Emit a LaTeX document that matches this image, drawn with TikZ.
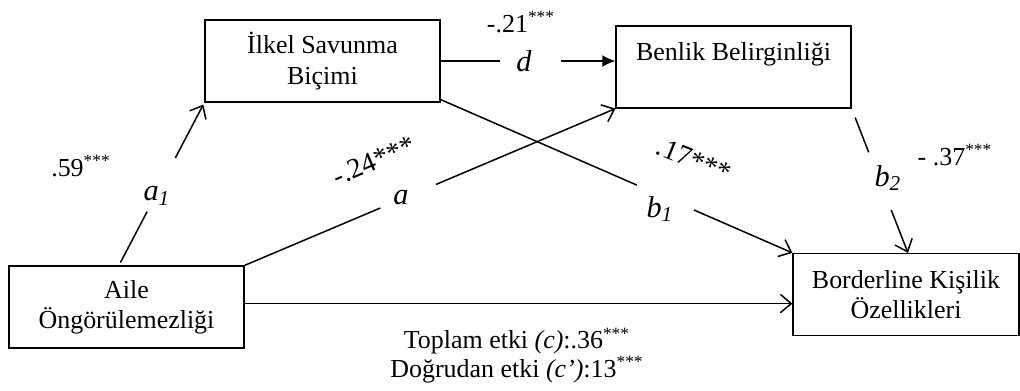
\documentclass[tikz,border=0pt]{standalone}
\usepackage{fontspec}
\setmainfont{Liberation Serif}
\usetikzlibrary{arrows.meta,calc}

\begin{document}
\begin{tikzpicture}[x=0.4625pt,y=-0.4625pt,line width=0.7pt,
    >={Straight Barb[length=5pt,width=8.5pt]},
    box/.style={draw,line width=0.6pt,minimum width=108.7pt,minimum height=37.9pt,
      align=center,font=\fontsize{12pt}{14pt}\selectfont},
    coef/.style={inner sep=0.5pt,font=\fontsize{12pt}{14pt}\selectfont},
    plabel/.style={inner sep=1pt,font=\fontsize{14pt}{16pt}\selectfont\itshape}]

    \useasboundingbox (0,0) rectangle (1020,390);

    \node[box] (ilkel) at (322.5,61) {İlkel Savunma\\Biçimi};
    \node[box] (benlik) at (733.5,67) {Benlik Belirginliği\\~};
    \node[box] (aile) at (126.5,307) {Aile\\Öngörülemezliği};
    \node[box,minimum width=104.5pt] (border) at (906,294.5) {Borderline Kişilik\\Özellikleri};

    % a1
    \path ([xshift=-3.5pt]aile.north) -- coordinate[pos=.33] (a1p) coordinate[pos=.66] (a1q) (ilkel.south west);
    \draw[shorten <=1.5pt] ([xshift=-3.5pt]aile.north) -- (a1p);
    \draw[->,shorten >=1pt] (a1q) -- (ilkel.south west);
    % a
    \path (aile.north east) -- coordinate[pos=.366] (ap) coordinate[pos=.516] (aq) (benlik.south west);
    \draw (aile.north east) -- (ap);
    \draw[->] (aq) -- (benlik.south west);
    % d
    \path (ilkel.east) -- coordinate[pos=.34] (dp) coordinate[pos=.69] (dq) (ilkel.east -| benlik.west);
    \draw (ilkel.east) -- (dp);
    \draw[-{Latex[length=6pt,width=5.5pt]}] (dq) -- (ilkel.east -| benlik.west);
    % b1
    \path ([yshift=1.4pt]ilkel.south east) -- coordinate[pos=.558] (b1p) coordinate[pos=.72] (b1q) (border.north west);
    \draw ([yshift=1.4pt]ilkel.south east) -- (b1p);
    \draw[->] (b1q) -- (border.north west);
    % b2
    \path (benlik.south east) -- coordinate[pos=.062] (b2o) coordinate[pos=.303] (b2p)
      coordinate[pos=.703] (b2q) ([xshift=0.9pt]border.north);
    \draw (b2o) -- (b2p);
    \draw[->] (b2q) -- ([xshift=0.9pt]border.north);
    % c
    \coordinate (cstart) at ([yshift=1.6pt]aile.east);
    \draw[->] (cstart) -- (cstart -| border.west);

    \node[coef] (c59) at (81,166) {.59\textsuperscript{***}};
    \node[plabel] (la1) at (157,196) {a\textsubscript{1}};
    \node[coef,font=\fontsize{13pt}{15pt}\selectfont,rotate=23] (c24) at (374,161) {-.24***};
    \node[plabel] (la) at (401,198) {a};
    \node[coef] (c21) at (521,22) {-.21\textsuperscript{***}};
    \node[plabel] (ld) at (524,61) {d};
    \node[coef,font=\fontsize{13pt}{15pt}\selectfont,rotate=-22] (c17) at (694,160) {.17***};
    \node[plabel] (lb1) at (660,209) {b\textsubscript{1}};
    \node[plabel] (lb2) at (888,178) {b\textsubscript{2}};
    \node[coef] (c37) at (955,155) {- .37\textsuperscript{***}};
    \node[coef,align=center,font=\fontsize{12pt}{10.8pt}\selectfont] (effect) at (517,355.5)
      {Toplam etki \textit{(c)}:.36\textsuperscript{***}\\Doğrudan etki \textit{(c’)}:13\textsuperscript{***}};
\end{tikzpicture}
\end{document}
